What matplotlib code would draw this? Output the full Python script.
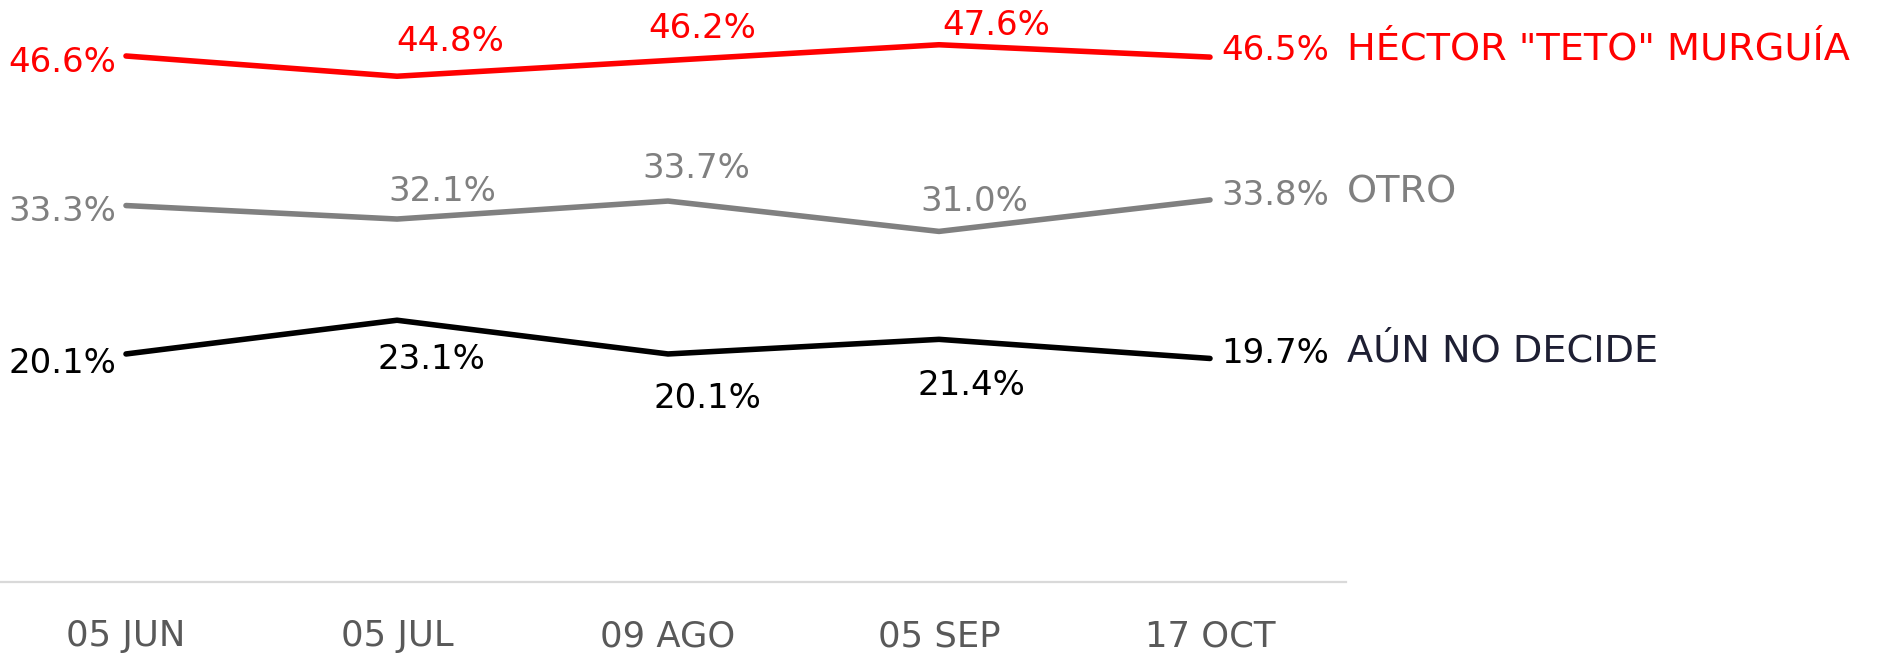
import matplotlib
matplotlib.use("Agg")
import matplotlib.pyplot as plt

# Data
fechas = ["05 JUN", "05 JUL", "09 AGO", "05 SEP", "17 OCT"]
nombres = ['HÉCTOR "TETO" MURGUÍA', "OTRO", "AÚN NO DECIDE"]
teto = [46.6, 44.8, 46.2, 47.6, 46.5]
otro = [33.3, 32.1, 33.7, 31.0, 33.8]
no_decide = [20.1, 23.1, 20.1, 21.4, 19.7]

series = [teto, otro, no_decide]
line_colors = ["#ff0000", "#808080", "#000000"]
name_colors = ["#ff0000", "#808080", "#1e1f33"]

# label offsets for the middle points (pixels: dx of centre, dy of baseline)
mid_offsets = [
    [(53, 25), (34, 22), (57, 10)],
    [(45, 18), (28, 23), (35, 20)],
    [(34, -49), (39, -54), (32, -56)],
]
start_dy = [-16, -15, -19]
end_dy = [-3, -5, -5]
name_dy = [-2, -3, -3]

plt.rcParams['font.family'] = ['DejaVu Sans']

fig = plt.figure(figsize=(18.77, 6.54), dpi=100)
ax = fig.add_axes([0, 0.1101, 1346 / 1877, 1 - 0.1101])

x = list(range(len(fechas)))
for k in range(len(series)):
    vals = series[k]
    ax.plot(x, vals, color=line_colors[k], lw=4.0, solid_capstyle='round',
            solid_joinstyle='round', clip_on=False)
    # first point label, left of the line
    ax.annotate('{:.1f}%'.format(vals[0]), (x[0], vals[0]), xytext=(-10, start_dy[k]),
                textcoords='offset pixels', ha='right', va='baseline',
                fontsize=24.5, color=line_colors[k])
    # middle labels
    for i in range(1, len(x) - 1):
        dx, dy = mid_offsets[k][i - 1]
        ax.annotate('{:.1f}%'.format(vals[i]), (x[i], vals[i]), xytext=(dx, dy),
                    textcoords='offset pixels', ha='center', va='baseline',
                    fontsize=24.5, color=line_colors[k])
    # last label
    ax.annotate('{:.1f}%'.format(vals[-1]), (x[-1], vals[-1]), xytext=(11, end_dy[k]),
                textcoords='offset pixels', ha='left', va='baseline',
                fontsize=24.5, color=line_colors[k], annotation_clip=False)
    # series name
    ax.annotate(nombres[k], (x[-1], vals[-1]), xytext=(137, name_dy[k]),
                textcoords='offset pixels', ha='left', va='baseline',
                fontsize=27.5, color=name_colors[k], annotation_clip=False)

ax.set_xlim(-126 / 271, 1220 / 271)
ax.set_ylim(-0.18, 51.58)
ax.set_xticks(x)
ax.set_xticklabels(fechas, fontsize=25.5, color='#595959')
ax.tick_params(axis='x', length=0, pad=27)
ax.set_yticks([])
for side in ['top', 'right', 'left']:
    ax.spines[side].set_visible(False)
ax.spines['bottom'].set_color('#d9d9d9')
ax.spines['bottom'].set_linewidth(1.6)
ax.patch.set_alpha(0)

fig.savefig("out.png", dpi=100, facecolor='white')
